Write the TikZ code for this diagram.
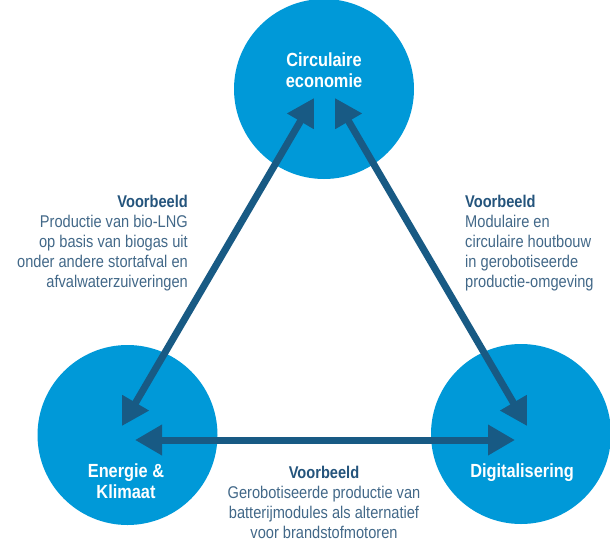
\documentclass[tikz,border=0pt]{standalone}
\usepackage{fontspec}
\setmainfont{Liberation Sans}[FakeStretch=0.86]
\usepackage{tikz}
\usetikzlibrary{arrows.meta}
\definecolor{circblue}{RGB}{0,153,216}
\definecolor{arrowblue}{RGB}{24,90,132}
\definecolor{headblue}{RGB}{36,84,124}
\definecolor{textblue}{RGB}{66,104,136}

\begin{document}
\begin{tikzpicture}[x=1pt, y=-1pt]

\tikzstyle{bubble}=[circle, fill=circblue, minimum size=180pt, inner sep=0pt]
\tikzstyle{bubbletext}=[text=white, font=\fontsize{19}{21}\selectfont\bfseries, align=center, inner sep=0pt]
\tikzstyle{example}=[text=textblue, font=\fontsize{17}{20}\selectfont, inner sep=0pt]
\tikzstyle{biarrow}=[{Triangle[length=27pt,width=29pt]}-{Triangle[length=27pt,width=29pt]}, line width=7pt, draw=arrowblue]

\useasboundingbox (0,0) rectangle (610,538);

\node (C) [bubble] at (324,89) {};
\node (E) [bubble] at (127.5,435) {};
\node (D) [bubble] at (521,434) {};

\node (Ct) [bubbletext, anchor=north] at (324,53) {Circulaire\\economie};
\node (Et) [bubbletext, anchor=north] at (126,464) {Energie \&\\Klimaat};
\node (Dt) [bubbletext, anchor=base] at (522,477) {Digitalisering};

\draw [biarrow] ([shift={(-10,9)}]C.center) -- ([shift={(-5.5,-9)}]E.center);
\draw [biarrow] ([shift={(11,9)}]C.center) -- ([shift={(6,-8)}]D.center);
\draw [biarrow] ([shift={(7.5,5)}]E.center) -- ([shift={(-6,6)}]D.center);

\node (L) [example, anchor=north east, align=right] at (188,194.5) {\textbf{\color{headblue}Voorbeeld}\\
       Productie van bio-LNG\\
       op basis van biogas uit\\
       onder andere stortafval en\\
       afvalwaterzuiveringen};

\node (R) [example, anchor=north west, align=left] at (465,194.5) {\textbf{\color{headblue}Voorbeeld}\\
       Modulaire en\\
       circulaire houtbouw\\
       in gerobotiseerde\\
       productie-omgeving};

\node (B) [example, anchor=north, align=center] at (324,465.5) {\textbf{\color{headblue}Voorbeeld}\\
       Gerobotiseerde productie van\\
       batterijmodules als alternatief\\
       voor brandstofmotoren};

\end{tikzpicture}
\end{document}
